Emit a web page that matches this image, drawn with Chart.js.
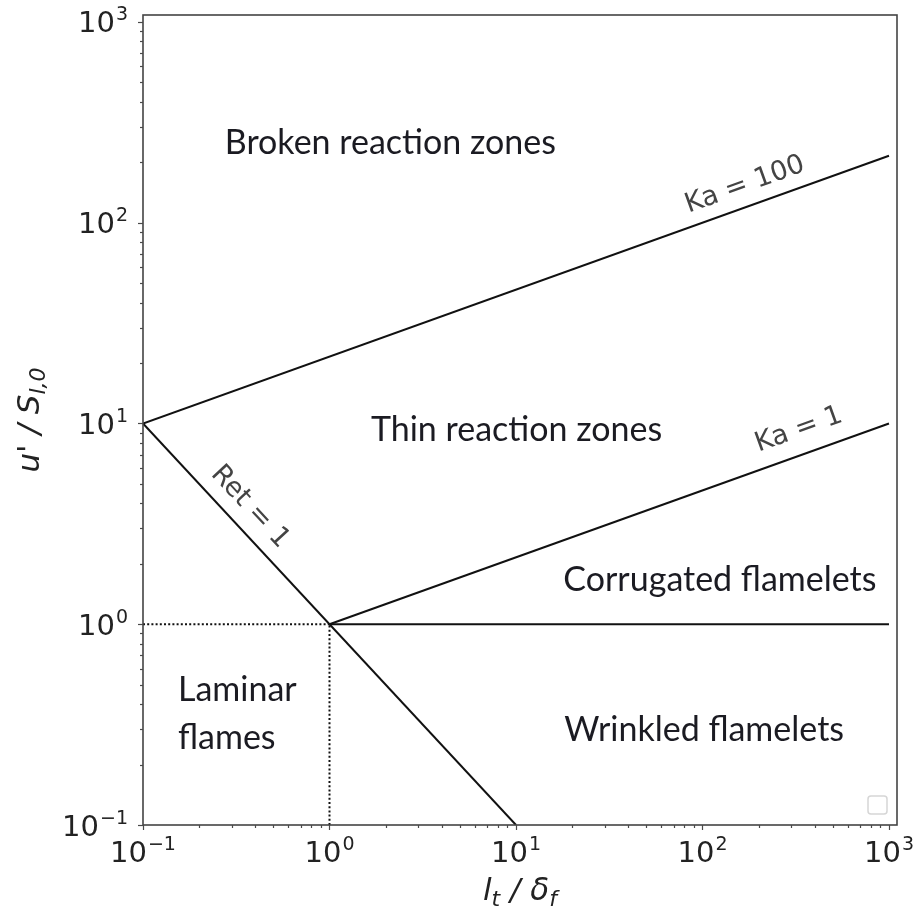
<!DOCTYPE html>
<html>
<head>
<meta charset="utf-8">
<script src="https://cdn.jsdelivr.net/npm/chart.js@4"></script>
<style>
  html, body { margin: 0; padding: 0; background: #ffffff; }
  canvas { display: block; }
</style>
</head>
<body>
<canvas id="regime" width="916" height="909"></canvas>
<script>
// Premixed turbulent combustion regime diagram (log-log).

// Axis limits: l_t / delta_f and u' / S_l,0
const xLimits = [0.1, 1104];
const yLimits = [0.1, 1083];

// Ka = 100 boundary
const ka100X = [0.1, 1000];
const ka100Y = [10, 215.4];
// Ka = 1 boundary
const ka1X = [1, 1000];
const ka1Y = [1, 10];
// Re_t = 1 boundary
const re1X = [0.1, 10];
const re1Y = [10, 0.1];
// u' = S_l boundary between wrinkled and corrugated flamelets
const flameletX = [1, 1000];
const flameletY = [1, 1];
// dotted guides to the (1, 1) corner
const guideHX = [0.1, 1];
const guideHY = [1, 1];
const guideVX = [1, 1];
const guideVY = [0.1, 1];

// Tick labels: powers of ten on both axes
const decadeExponents = [-1, 0, 1, 2, 3];

// Region and boundary names
const regionNames = ['Broken reaction zones', 'Thin reaction zones', 'Corrugated flamelets', 'Wrinkled flamelets', 'Laminar', 'flames'];
const boundaryNames = ['Ka = 100', 'Ka = 1', 'Ret = 1'];

const pts = (xs, ys) => xs.map((x, i) => ({ x: x, y: ys[i] }));

// Placement of the names, in data coordinates
const regionPlacement = [
  { at: [2.12, 250], align: 'center' },
  { at: [10.07, 9.3], align: 'center' },
  { at: [124, 1.66], align: 'center' },
  { at: [102, 0.297], align: 'center' },
  { at: [0.154, 0.47], align: 'left' },
  { at: [0.154, 0.271], align: 'left' }
];
const boundaryPlacement = [
  { at: [169, 154], line: 0 },
  { at: [329, 9.3], line: 1 },
  { at: [0.375, 3.84], line: 2 }
];

const solid = { borderColor: '#111111', borderWidth: 2, pointRadius: 0, showLine: true, fill: false };
const dotted = { borderColor: '#111111', borderWidth: 2, borderDash: [2, 2.2], pointRadius: 0, showLine: true, fill: false };

const datasets = [
  Object.assign({ label: 'Ka100', data: pts(ka100X, ka100Y) }, solid),
  Object.assign({ label: 'Ka1', data: pts(ka1X, ka1Y) }, solid),
  Object.assign({ label: 'Re1', data: pts(re1X, re1Y) }, solid),
  Object.assign({ label: 'flamelet', data: pts(flameletX, flameletY) }, solid),
  Object.assign({ label: 'guideH', data: pts(guideHX, guideHY) }, dotted),
  Object.assign({ label: 'guideV', data: pts(guideVX, guideVY) }, dotted)
];

const BASE_FONT = '"DejaVu Sans", sans-serif';

function drawPower(ctx, exp, px, baseline, align) {
  const base = '10';
  const sup = exp < 0 ? '\u2212' + (-exp) : String(exp);
  ctx.font = '29px ' + BASE_FONT;
  const wb = ctx.measureText(base).width;
  ctx.font = '19px ' + BASE_FONT;
  const ws = ctx.measureText(sup).width;
  const total = wb + ws + 1;
  const x0 = align === 'right' ? px - total : px - total / 2;
  ctx.textAlign = 'left';
  ctx.textBaseline = 'alphabetic';
  ctx.font = '29px ' + BASE_FONT;
  ctx.fillText(base, x0, baseline);
  ctx.font = '19px ' + BASE_FONT;
  ctx.fillText(sup, x0 + wb + 1, baseline - 12);
}

// Text with subscripts: parts = [[text, isSub], ...]
function drawRich(ctx, parts, cx, baseline) {
  const mainFont = 'italic 31px ' + BASE_FONT;
  const subFont = 'italic 22px ' + BASE_FONT;
  let total = 0;
  const widths = parts.map(p => {
    ctx.font = p[1] ? subFont : mainFont;
    const w = ctx.measureText(p[0]).width;
    total += w;
    return w;
  });
  let x = cx - total / 2;
  ctx.textAlign = 'left';
  ctx.textBaseline = 'alphabetic';
  parts.forEach((p, i) => {
    ctx.font = p[1] ? subFont : mainFont;
    ctx.fillText(p[0], x, baseline + (p[1] ? 6 : 0));
    x += widths[i];
  });
}

const decor = {
  id: 'decor',
  afterDatasetsDraw(chart) {
    const { ctx, chartArea: a, scales } = chart;
    const sx = scales.x, sy = scales.y;
    ctx.save();

    // frame
    ctx.strokeStyle = '#444444';
    ctx.lineWidth = 1.6;
    ctx.strokeRect(a.left, a.top, a.right - a.left, a.bottom - a.top);

    // major and minor ticks
    ctx.lineWidth = 1.2;
    ctx.strokeStyle = '#4a4a4a';
    for (let d = -1; d <= 3; d++) {
      for (let m = 1; m <= 9; m++) {
        const v = m * Math.pow(10, d);
        const len = m === 1 ? 5 : 3;
        if (v >= xLimits[0] && v <= xLimits[1]) {
          const px = Math.round(sx.getPixelForValue(v)) + 0.5;
          ctx.beginPath(); ctx.moveTo(px, a.bottom); ctx.lineTo(px, a.bottom + len); ctx.stroke();
        }
        if (v >= yLimits[0] && v <= yLimits[1]) {
          const py = Math.round(sy.getPixelForValue(v)) + 0.5;
          ctx.beginPath(); ctx.moveTo(a.left, py); ctx.lineTo(a.left - len, py); ctx.stroke();
        }
      }
    }

    // tick labels
    ctx.fillStyle = '#222222';
    decadeExponents.forEach(e => {
      const v = Math.pow(10, e);
      drawPower(ctx, e, sx.getPixelForValue(v), a.bottom + 37, 'center');
      drawPower(ctx, e, a.left - 15, sy.getPixelForValue(v) + 10.5, 'right');
    });

    // axis titles
    ctx.fillStyle = '#222222';
    drawRich(ctx, [['l', false], ['t', true], [' / \u03b4', false], ['f', true]], (a.left + a.right) / 2, a.bottom + 75);
    ctx.save();
    ctx.translate(39, (a.top + a.bottom) / 2);
    ctx.rotate(-Math.PI / 2);
    drawRich(ctx, [["u' / S", false], ['l,0', true]], 0, 0);
    ctx.restore();

    // region names
    ctx.fillStyle = '#1b1b22';
    ctx.font = '34px Lato, "Open Sans", sans-serif';
    ctx.textBaseline = 'middle';
    regionNames.forEach((name, i) => {
      const p = regionPlacement[i];
      ctx.textAlign = p.align;
      ctx.fillText(name, sx.getPixelForValue(p.at[0]), sy.getPixelForValue(p.at[1]));
    });

    // boundary names, rotated along their lines
    ctx.fillStyle = '#444444';
    ctx.font = '27px ' + BASE_FONT;
    ctx.textAlign = 'center';
    ctx.textBaseline = 'middle';
    boundaryNames.forEach((name, i) => {
      const p = boundaryPlacement[i];
      const d = chart.data.datasets[p.line].data;
      const x1 = sx.getPixelForValue(d[0].x), y1 = sy.getPixelForValue(d[0].y);
      const x2 = sx.getPixelForValue(d[1].x), y2 = sy.getPixelForValue(d[1].y);
      const ang = Math.atan2(y2 - y1, x2 - x1);
      ctx.save();
      ctx.translate(sx.getPixelForValue(p.at[0]), sy.getPixelForValue(p.at[1]));
      ctx.rotate(ang);
      ctx.fillText(name, 0, 0);
      ctx.restore();
    });

    // empty legend frame
    ctx.strokeStyle = '#d6d6d6';
    ctx.lineWidth = 1.5;
    ctx.beginPath();
    ctx.roundRect(a.right - 29, a.bottom - 29, 19, 18, 3);
    ctx.stroke();

    ctx.restore();
  }
};

new Chart(document.getElementById('regime'), {
  type: 'scatter',
  data: { datasets: datasets },
  options: {
    responsive: false,
    animation: false,
    devicePixelRatio: 1,
    layout: { padding: { top: 15, right: 19, left: 0, bottom: 0 } },
    plugins: { legend: { display: false }, tooltip: { enabled: false } },
    scales: {
      x: {
        type: 'logarithmic', min: xLimits[0], max: xLimits[1],
        grid: { display: false, drawTicks: false }, border: { display: false },
        ticks: { display: false },
        afterFit(s) { s.height = 84; }
      },
      y: {
        type: 'logarithmic', min: yLimits[0], max: yLimits[1],
        grid: { display: false, drawTicks: false }, border: { display: false },
        ticks: { display: false },
        afterFit(s) { s.width = 143; }
      }
    }
  },
  plugins: [decor]
});
</script>
</body>
</html>
